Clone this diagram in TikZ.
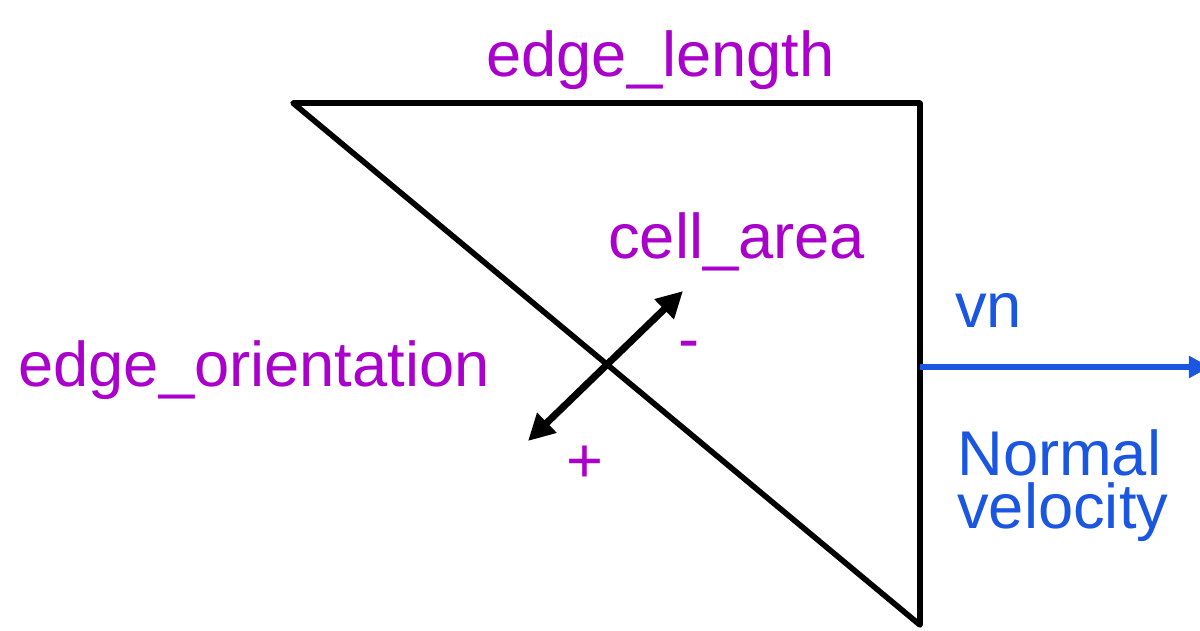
\documentclass[tikz,border=0pt]{standalone}
\usepackage{fontspec}
\setmainfont{Liberation Sans}
\usetikzlibrary{arrows.meta,positioning}
\definecolor{labelPurple}{HTML}{AA00CC}
\definecolor{flowBlue}{HTML}{1A56E0}

\begin{document}
\begin{tikzpicture}[x=0.02cm, y=-0.02cm,
        cell/.style={draw=black, line width=3.2pt, line join=round},
        lbl/.style={text=labelPurple, font=\fontsize{36}{43}\selectfont, inner sep=0pt, anchor=base west},
        vlbl/.style={text=flowBlue, font=\fontsize{36}{30}\selectfont, inner sep=0pt, anchor=base west, align=left},
        orient/.style={{Triangle[length=15pt,width=15pt]}-{Triangle[length=15pt,width=15pt]}, line width=4pt, draw=black},
        flow/.style={-{Triangle[length=12pt,width=12pt]}, line width=3.4pt, draw=flowBlue}
    ]
        \useasboundingbox (0,0) rectangle (1200,630);

        % triangular cell
        \coordinate (tl) at (293,103);
        \coordinate (tr) at (920,103);
        \coordinate (br) at (920,625);
        \draw[cell] (tl) -- (tr) -- (br) -- cycle;

        % edge orientation arrow
        \coordinate (o1) at (528,441);
        \coordinate (o2) at (683,291);
        \draw[orient] (o1) -- (o2);

        % normal velocity arrow
        \coordinate (v1) at (920,367);
        \coordinate (v2) at (1210,367);
        \draw[flow] (v1) -- (v2);

        % labels
        \node[lbl] (edgelen) at (486,76) {edge\_length};
        \node[lbl] (cellarea) at (608,258) {cell\_area};
        \node[lbl] (edgeori) at (18,386) {edge\_orientation};
        \node[lbl] (minus) at (678,360) {-};
        \node[lbl] (plus) at (566,482) {+};
        \node[vlbl] (vn) at (955,327) {vn};
        \node[vlbl] (normvel) at (957,528) {Normal\\velocity};
    \end{tikzpicture}
\end{document}
